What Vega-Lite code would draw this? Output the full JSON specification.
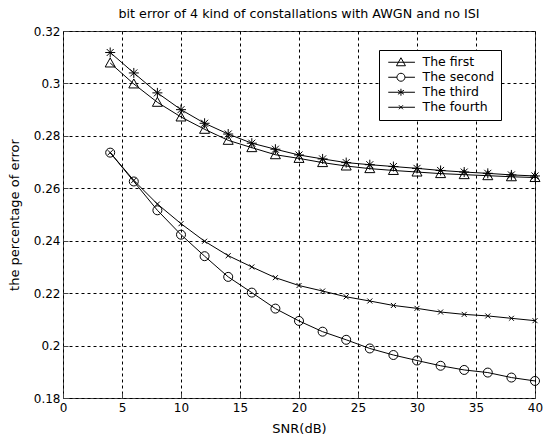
{
  "$schema": "https://vega.github.io/schema/vega-lite/v6.json",
  "width": 472,
  "height": 367,
  "autosize": {"type": "none"},
  "padding": {"left": 63, "top": 31, "right": 9, "bottom": 41},
  "background": "white",
  "config": {
    "view": {"stroke": "#444", "strokeWidth": 1},
    "font": "DejaVu Sans",
    "axis": {
      "labelFont": "DejaVu Sans", "labelFontSize": 12, "labelColor": "black",
      "titleFont": "DejaVu Sans", "titleFontSize": 13, "titleFontWeight": "normal", "titleColor": "black",
      "domain": false, "tickColor": "#444", "tickSize": -5,
      "grid": true, "gridColor": "black", "gridDash": [3, 3], "gridOpacity": 1, "gridWidth": 1
    }
  },
  "title": {
    "text": "bit error of 4 kind of constallations with AWGN and no ISI",
    "font": "DejaVu Sans", "fontSize": 12.7, "fontWeight": "normal", "color": "black", "offset": 4
  },
  "data": {"values": [
    {"snr": 4, "err": 0.3078, "series": "The first"},
    {"snr": 6, "err": 0.2998, "series": "The first"},
    {"snr": 8, "err": 0.2928, "series": "The first"},
    {"snr": 10, "err": 0.2872, "series": "The first"},
    {"snr": 12, "err": 0.2825, "series": "The first"},
    {"snr": 14, "err": 0.2783, "series": "The first"},
    {"snr": 16, "err": 0.2755, "series": "The first"},
    {"snr": 18, "err": 0.2728, "series": "The first"},
    {"snr": 20, "err": 0.2714, "series": "The first"},
    {"snr": 22, "err": 0.2698, "series": "The first"},
    {"snr": 24, "err": 0.2685, "series": "The first"},
    {"snr": 26, "err": 0.2675, "series": "The first"},
    {"snr": 28, "err": 0.2668, "series": "The first"},
    {"snr": 30, "err": 0.2662, "series": "The first"},
    {"snr": 32, "err": 0.2656, "series": "The first"},
    {"snr": 34, "err": 0.2652, "series": "The first"},
    {"snr": 36, "err": 0.2648, "series": "The first"},
    {"snr": 38, "err": 0.2644, "series": "The first"},
    {"snr": 40, "err": 0.2641, "series": "The first"},
    {"snr": 4, "err": 0.2736, "series": "The second"},
    {"snr": 6, "err": 0.2626, "series": "The second"},
    {"snr": 8, "err": 0.2516, "series": "The second"},
    {"snr": 10, "err": 0.2423, "series": "The second"},
    {"snr": 12, "err": 0.2341, "series": "The second"},
    {"snr": 14, "err": 0.2262, "series": "The second"},
    {"snr": 16, "err": 0.2202, "series": "The second"},
    {"snr": 18, "err": 0.2141, "series": "The second"},
    {"snr": 20, "err": 0.2094, "series": "The second"},
    {"snr": 22, "err": 0.2053, "series": "The second"},
    {"snr": 24, "err": 0.2022, "series": "The second"},
    {"snr": 26, "err": 0.1989, "series": "The second"},
    {"snr": 28, "err": 0.1964, "series": "The second"},
    {"snr": 30, "err": 0.1943, "series": "The second"},
    {"snr": 32, "err": 0.1923, "series": "The second"},
    {"snr": 34, "err": 0.1907, "series": "The second"},
    {"snr": 36, "err": 0.1897, "series": "The second"},
    {"snr": 38, "err": 0.1878, "series": "The second"},
    {"snr": 40, "err": 0.1865, "series": "The second"},
    {"snr": 4, "err": 0.3118, "series": "The third"},
    {"snr": 6, "err": 0.3040, "series": "The third"},
    {"snr": 8, "err": 0.2964, "series": "The third"},
    {"snr": 10, "err": 0.2900, "series": "The third"},
    {"snr": 12, "err": 0.2848, "series": "The third"},
    {"snr": 14, "err": 0.2807, "series": "The third"},
    {"snr": 16, "err": 0.2772, "series": "The third"},
    {"snr": 18, "err": 0.2749, "series": "The third"},
    {"snr": 20, "err": 0.2727, "series": "The third"},
    {"snr": 22, "err": 0.2712, "series": "The third"},
    {"snr": 24, "err": 0.2698, "series": "The third"},
    {"snr": 26, "err": 0.2690, "series": "The third"},
    {"snr": 28, "err": 0.2683, "series": "The third"},
    {"snr": 30, "err": 0.2676, "series": "The third"},
    {"snr": 32, "err": 0.2668, "series": "The third"},
    {"snr": 34, "err": 0.2662, "series": "The third"},
    {"snr": 36, "err": 0.2657, "series": "The third"},
    {"snr": 38, "err": 0.2651, "series": "The third"},
    {"snr": 40, "err": 0.2647, "series": "The third"},
    {"snr": 4, "err": 0.2736, "series": "The fourth"},
    {"snr": 6, "err": 0.2630, "series": "The fourth"},
    {"snr": 8, "err": 0.2540, "series": "The fourth"},
    {"snr": 10, "err": 0.2465, "series": "The fourth"},
    {"snr": 12, "err": 0.2398, "series": "The fourth"},
    {"snr": 14, "err": 0.2343, "series": "The fourth"},
    {"snr": 16, "err": 0.2300, "series": "The fourth"},
    {"snr": 18, "err": 0.2259, "series": "The fourth"},
    {"snr": 20, "err": 0.2229, "series": "The fourth"},
    {"snr": 22, "err": 0.2208, "series": "The fourth"},
    {"snr": 24, "err": 0.2186, "series": "The fourth"},
    {"snr": 26, "err": 0.2170, "series": "The fourth"},
    {"snr": 28, "err": 0.2153, "series": "The fourth"},
    {"snr": 30, "err": 0.2142, "series": "The fourth"},
    {"snr": 32, "err": 0.2128, "series": "The fourth"},
    {"snr": 34, "err": 0.2119, "series": "The fourth"},
    {"snr": 36, "err": 0.2113, "series": "The fourth"},
    {"snr": 38, "err": 0.2104, "series": "The fourth"},
    {"snr": 40, "err": 0.2095, "series": "The fourth"}
  ]},
  "encoding": {
    "x": {
      "field": "snr", "type": "quantitative", "title": "SNR(dB)",
      "scale": {"domain": [0, 40], "nice": false},
      "axis": {"values": [0, 5, 10, 15, 20, 25, 30, 35, 40], "labelPadding": 9, "titlePadding": 9, "labelFlush": false}
    },
    "y": {
      "field": "err", "type": "quantitative", "title": "the percentage of error",
      "scale": {"domain": [0.18, 0.32], "nice": false, "zero": false},
      "axis": {"values": [0.18, 0.2, 0.22, 0.24, 0.26, 0.28, 0.3, 0.32], "format": "~g", "labelPadding": 8, "titlePadding": 12, "labelFlush": false}
    }
  },
  "resolve": {"scale": {"shape": "independent"}, "legend": {"shape": "independent"}},
  "layer": [
    {
      "mark": {"type": "line", "color": "black", "strokeWidth": 1},
      "encoding": {"detail": {"field": "series"}}
    },
    {
      "mark": {"type": "point", "filled": false, "stroke": "black", "strokeWidth": 1, "size": 100, "opacity": 1},
      "encoding": {
        "shape": {
          "field": "series", "type": "nominal", "legend": null,
          "scale": {
            "domain": ["The first", "The second", "The third", "The fourth"],
            "range": [
              "M0,-1L1,0.8L-1,0.8Z",
              "M-0.9,0A0.9,0.9,0,1,0,0.9,0A0.9,0.9,0,1,0,-0.9,0",
              "M0,-1L0,1M-1,0L1,0M-0.7,-0.7L0.7,0.7M-0.7,0.7L0.7,-0.7",
              "M-0.5,-0.5L0.5,0.5M-0.5,0.5L0.5,-0.5"
            ]
          }
        }
      }
    },
    {
      "mark": {"type": "point", "filled": false, "stroke": "black", "strokeWidth": 1, "size": 100, "opacity": 0},
      "encoding": {
        "shape": {
          "field": "series", "type": "nominal",
          "scale": {
            "domain": ["The first", "The second", "The third", "The fourth"],
            "range": [
              "M-0.6,0L4.74,0M1.94,-0.9L2.84,0.7L1.04,0.7Z",
              "M-0.6,0L1.14,0M2.74,0L4.74,0M1.14,0A0.8,0.8,0,1,0,2.74,0A0.8,0.8,0,1,0,1.14,0",
              "M-0.6,0L4.74,0M1.94,-0.7L1.94,0.7M1.34,-0.4L2.54,0.4M1.34,0.4L2.54,-0.4",
              "M-0.6,0L4.74,0M1.54,-0.4L2.34,0.4M1.54,0.4L2.34,-0.4"
            ]
          },
          "legend": {
            "title": null, "orient": "none", "legendX": 316, "legendY": 19,
            "strokeColor": "black", "fillColor": "white", "padding": 6,
            "symbolSize": 100, "symbolStrokeColor": "black", "symbolFillColor": "transparent", "symbolStrokeWidth": 1, "symbolOpacity": 1,
            "labelFont": "DejaVu Sans", "labelFontSize": 12.5, "labelColor": "black", "labelOffset": 25, "rowPadding": 2
          }
        }
      }
    }
  ]
}
